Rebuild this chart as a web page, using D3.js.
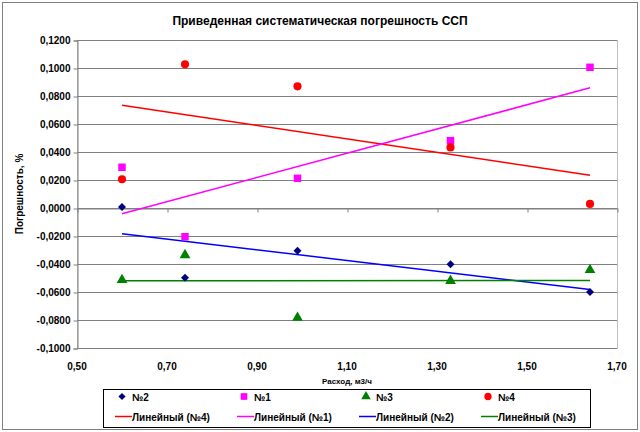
<!DOCTYPE html>
<html><head><meta charset="utf-8">
<script src="https://cdn.jsdelivr.net/npm/d3@7"></script>
<style>body{margin:0;background:#fff}svg{display:block}text{font-family:"Liberation Sans",Arial,sans-serif}</style>
</head><body><svg id="c" width="640" height="432"></svg>
<script>
const flow = [0.60, 0.74, 0.99, 1.33, 1.64];
const s2 = [0.0007, -0.0498, -0.0305, -0.0402, -0.0600];
const s1 = [0.0291, -0.0205, 0.0212, 0.0481, 0.1005];
const s3 = [-0.0514, -0.0336, -0.0783, -0.0520, -0.0443];
const s4 = [0.0205, 0.1026, 0.0869, 0.0433, 0.0029];
const yTicks = [0.12, 0.10, 0.08, 0.06, 0.04, 0.02, 0, -0.02, -0.04, -0.06, -0.08, -0.10];
const xTicks = [0.5, 0.7, 0.9, 1.1, 1.3, 1.5, 1.7];
const seriesNames = ["№2", "№1", "№3", "№4"];

const svg = d3.select("#c");
const L = 77, R = 617, T = 40, B = 348;
const x = d3.scaleLinear().domain([0.5, 1.7]).range([L, R]);
const y = d3.scaleLinear().domain([-0.10, 0.12]).range([B, T]);
const fmt = (d, n) => d.toFixed(n).replace(".", ",");

const rhombus = {draw(ctx, size) { const r = Math.sqrt(size / 2); ctx.moveTo(0, -r); ctx.lineTo(r, 0); ctx.lineTo(0, r); ctx.lineTo(-r, 0); ctx.closePath(); }};

svg.append("rect").attr("x", 2.5).attr("y", 2.5).attr("width", 635).attr("height", 427)
  .attr("fill", "#fff").attr("stroke", "#808080");

svg.append("text").attr("x", 320).attr("y", 25).attr("text-anchor", "middle")
  .attr("font-size", 12).attr("font-weight", "bold").text("Приведенная систематическая погрешность ССП");

svg.append("rect").attr("x", L + 0.5).attr("y", T + 0.5).attr("width", R - L).attr("height", B - T)
  .attr("fill", "#fff").attr("stroke", "#c0c0c0");

svg.append("g").selectAll("line").data(yTicks).join("line")
  .attr("x1", L).attr("x2", R).attr("y1", d => Math.round(y(d)) + 0.5).attr("y2", d => Math.round(y(d)) + 0.5)
  .attr("stroke", "#808080").attr("stroke-width", 1);

const ya = svg.append("g").attr("transform", `translate(${L + 0.5},0.5)`)
  .call(d3.axisLeft(y).tickValues(yTicks).tickSize(4).tickPadding(3).tickFormat(d => fmt(d, 4)));
ya.selectAll("path,line").attr("stroke", "#808080");
ya.selectAll("text").attr("font-size", 10).attr("font-weight", "bold").attr("fill", "#000")
  .style("font-family", "Liberation Sans, Arial, sans-serif");

const xa = svg.append("g").attr("transform", `translate(0.5,${Math.round(y(0)) + 0.5})`)
  .call(d3.axisBottom(x).tickValues(xTicks).tickSize(4).tickSizeOuter(0).tickFormat(""));
xa.selectAll("path,line").attr("stroke", "#808080");
svg.append("g").selectAll("text").data(xTicks).join("text")
  .attr("x", d => x(d)).attr("y", 370).attr("text-anchor", "middle")
  .attr("font-size", 10).attr("font-weight", "bold").text(d => fmt(d, 2));

svg.append("text").attr("x", (L + R) / 2).attr("y", 384).attr("text-anchor", "middle")
  .attr("font-size", 8).attr("font-weight", "bold").text("Расход, м3/ч");
svg.append("text").attr("transform", `translate(23,${(T + B) / 2}) rotate(-90)`).attr("text-anchor", "middle")
  .attr("font-size", 10).attr("font-weight", "bold").text("Погрешность, %");

function fit(ys) {
  const mx = d3.mean(flow), my = d3.mean(ys);
  const b = d3.sum(flow, (v, i) => (v - mx) * (ys[i] - my)) / d3.sum(flow, v => (v - mx) ** 2);
  return v => my + b * (v - mx);
}
const trends = [
  {ys: s4, c: "#ff0000", name: "Линейный (№4)"},
  {ys: s1, c: "#ff00ff", name: "Линейный (№1)"},
  {ys: s2, c: "#0000ff", name: "Линейный (№2)"},
  {ys: s3, c: "#008000", name: "Линейный (№3)"}
];
const x0 = d3.min(flow), x1 = d3.max(flow);
trends.forEach(t => {
  const f = fit(t.ys);
  svg.append("line").attr("x1", x(x0)).attr("x2", x(x1)).attr("y1", y(f(x0))).attr("y2", y(f(x1)))
    .attr("stroke", t.c).attr("stroke-width", 1.5);
});

const series = [
  {ys: s2, c: "#000080", sym: rhombus, size: 32},
  {ys: s1, c: "#ff00ff", sym: d3.symbolSquare, size: 56},
  {ys: s3, c: "#008000", sym: d3.symbolTriangle, size: 50},
  {ys: s4, c: "#ff0000", sym: d3.symbolCircle, size: 52}
];
series.forEach(s => {
  svg.append("g").selectAll("path").data(flow).join("path")
    .attr("transform", (d, i) => `translate(${x(d)},${y(s.ys[i])})`)
    .attr("d", d3.symbol().type(s.sym).size(s.size)).attr("fill", s.c);
});

const lg = svg.append("g");
lg.append("rect").attr("x", 103.5).attr("y", 389.5).attr("width", 487).attr("height", 38)
  .attr("fill", "#fff").attr("stroke", "#000");
const colX = [115, 237, 359, 481];
series.forEach((s, i) => {
  lg.append("path").attr("transform", `translate(${colX[i] + 7},396.5)`)
    .attr("d", d3.symbol().type(s.sym).size(s.size * 0.8)).attr("fill", s.c);
  lg.append("text").attr("x", colX[i] + 17).attr("y", 400.5).attr("font-size", 10).attr("font-weight", "bold").text(seriesNames[i]);
});
trends.forEach((t, i) => {
  lg.append("line").attr("x1", colX[i]).attr("x2", colX[i] + 17).attr("y1", 416.5).attr("y2", 416.5)
    .attr("stroke", t.c).attr("stroke-width", 1.5);
  lg.append("text").attr("x", colX[i] + 17).attr("y", 420.5).attr("font-size", 10).attr("font-weight", "bold").text(t.name);
});
</script></body></html>
